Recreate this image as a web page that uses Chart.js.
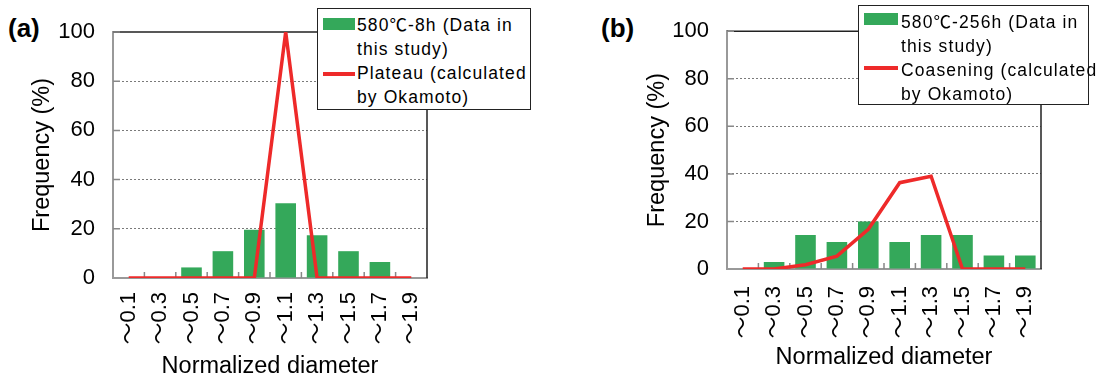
<!DOCTYPE html>
<html>
<head>
<meta charset="utf-8">
<script src="https://cdn.jsdelivr.net/npm/chart.js@4"></script>
<style>
  body { margin: 0; background: #fff; width: 1105px; height: 378px; position: relative; overflow: hidden;
         font-family: 'Liberation Sans', Arial, 'Noto Sans CJK JP', sans-serif; color: #000; }
  canvas { position: absolute; top: 0; }
  .tag { position: absolute; font-weight: bold; font-size: 26px; line-height: 26px; }
  .legend { position: absolute; background: #fff; border: 1.5px solid #222; box-sizing: border-box;
            font-size: 17.5px; letter-spacing: 1.1px; line-height: 24px; white-space: nowrap; }
  .legend .txt { position: absolute; }
  .legend .sw { position: absolute; }
</style>
</head>
<body>
<div class="tag" style="left:8px;top:15px">(a)</div>
<div class="tag" style="left:601px;top:15px">(b)</div>
<canvas id="chartA" width="560" height="378" style="left:0"></canvas>
<canvas id="chartB" width="545" height="378" style="left:560px"></canvas>
<div class="legend" id="legA" style="left:317px;top:8px;width:214px;height:102px"></div>
<div class="legend" id="legB" style="left:858px;top:5px;width:231px;height:100px"></div>

<script>
// data
const categories = ['～0.1', '～0.3', '～0.5', '～0.7', '～0.9', '～1.1', '～1.3', '～1.5', '～1.7', '～1.9'];
const yTicks = [0, 20, 40, 60, 80, 100];

// (a) 580C-8h
const barA = [0, 0, 4.3, 10.9, 19.6, 30.4, 17.4, 10.9, 6.5, 0];
const lineA = [0, 0, 0, 0, 0, 100, 0, 0, 0, 0];
const legendA = [['580℃-8h (Data in', 'this study)'], ['Plateau (calculated', 'by Okamoto)']];

// (b) 580C-256h
const barB = [0, 2.9, 14.3, 11.4, 20.0, 11.4, 14.3, 14.3, 5.7, 5.7];
const lineB = [0, 0, 1.8, 5.4, 16.7, 36.3, 39.0, 0, 0, 0];
const legendB = [['580℃-256h (Data in', 'this study)'], ['Coasening (calculated', 'by Okamoto)']];

const yTitle = 'Frequency (%)';
const xTitle = 'Normalized diameter';

const GREEN = '#34a85a';
const RED = '#ee2a2a';

Chart.defaults.font.family = "'Liberation Sans', Arial, 'Noto Sans CJK JP', sans-serif";
Chart.defaults.color = '#000';

// top/right frame and the small inner tick marks
const framePlugin = {
  id: 'frame',
  beforeDatasetsDraw(chart) {
    const { ctx, chartArea: a, scales: { x, y } } = chart;
    ctx.save();
    ctx.strokeStyle = '#222';
    ctx.lineWidth = 1.5;
    ctx.beginPath();
    ctx.moveTo(a.left, a.top);
    ctx.lineTo(a.right, a.top);
    ctx.lineTo(a.right, a.bottom);
    ctx.stroke();

    ctx.strokeStyle = '#888';
    ctx.lineWidth = 1.5;
    ctx.beginPath();
    for (let i = 1; i < categories.length; i++) {
      const px = (x.getPixelForValue(i - 1) + x.getPixelForValue(i)) / 2;
      ctx.moveTo(px, a.bottom);
      ctx.lineTo(px, a.bottom - 6);
    }
    y.ticks.forEach(t => {
      if (t.value > 0) {
        const py = y.getPixelForValue(t.value);
        ctx.moveTo(a.left, py);
        ctx.lineTo(a.left + 7, py);
      }
    });
    ctx.stroke();
    ctx.restore();
  }
};

function makeChart(id, bars, line, legend, lay) {
  return new Chart(document.getElementById(id), {
    type: 'bar',
    data: {
      labels: categories,
      datasets: [
        { type: 'line', label: legend[1].join(' '), data: line, borderColor: RED, borderWidth: 3.5,
          pointRadius: 0, tension: 0, order: 0 },
        { type: 'bar', label: legend[0].join(' '), data: bars, backgroundColor: GREEN,
          barPercentage: 0.8, categoryPercentage: 0.82, order: 1 }
      ]
    },
    options: {
      responsive: false,
      animation: false,
      devicePixelRatio: 1,
      layout: { padding: lay.padding },
      plugins: { legend: { display: false }, tooltip: { enabled: false } },
      scales: {
        x: {
          grid: { display: false, drawTicks: false },
          border: { color: '#999', width: 2 },
          afterFit: s => { s.height = lay.xHeight; },
          ticks: { autoSkip: false, minRotation: 90, maxRotation: 90, padding: lay.xPad, font: { size: 22 } },
          title: { display: true, text: xTitle, font: { size: 23.5, lineHeight: 1 }, padding: 0 }
        },
        y: {
          min: 0,
          max: 100,
          afterBuildTicks: s => { s.ticks = yTicks.map(v => ({ value: v })); },
          afterFit: s => { s.width = lay.yWidth; },
          grid: {
            color: c => (c.tick && (c.tick.value === 0 || c.tick.value === 100)) ? 'rgba(0,0,0,0)' : '#7a7a7a',
            lineWidth: 1,
            drawTicks: false
          },
          border: { color: '#999', width: 2, dash: [2, 2] },
          ticks: { padding: 18, font: { size: 22 } },
          title: { display: true, text: yTitle, font: { size: 23.5, lineHeight: 1 }, padding: 0 }
        }
      }
    },
    plugins: [framePlugin]
  });
}

makeChart('chartA', barA, lineA, legendA, {
  padding: { left: 31, right: 133, top: 32, bottom: 0 },
  yWidth: 82, xHeight: 100, xPad: 14
});
makeChart('chartB', barB, lineB, legendB, {
  padding: { left: 86, right: 64, top: 23, bottom: 9 },
  yWidth: 81, xHeight: 100, xPad: 17
});

// legend boxes (html, they sit over the plot corner)
function buildLegend(id, legend, textLeft, swW, greenTop, redTop) {
  const box = document.getElementById(id);
  legend.forEach((lines, i) => {
    const t = document.createElement('div');
    t.className = 'txt';
    t.style.left = textLeft + 'px';
    t.style.top = (4 + i * 48) + 'px';
    t.innerHTML = lines.join('<br>');
    box.appendChild(t);

    const sw = document.createElement('div');
    sw.className = 'sw';
    sw.style.left = '5px';
    sw.style.width = swW + 'px';
    if (i === 0) {
      sw.style.top = greenTop + 'px';
      sw.style.height = '12px';
      sw.style.background = GREEN;
    } else {
      sw.style.top = redTop + 'px';
      sw.style.height = '3.5px';
      sw.style.background = RED;
    }
    box.appendChild(sw);
  });
}
buildLegend('legA', legendA, 39, 32, 9, 63);
buildLegend('legB', legendB, 42, 34, 7, 60);
</script>
</body>
</html>
